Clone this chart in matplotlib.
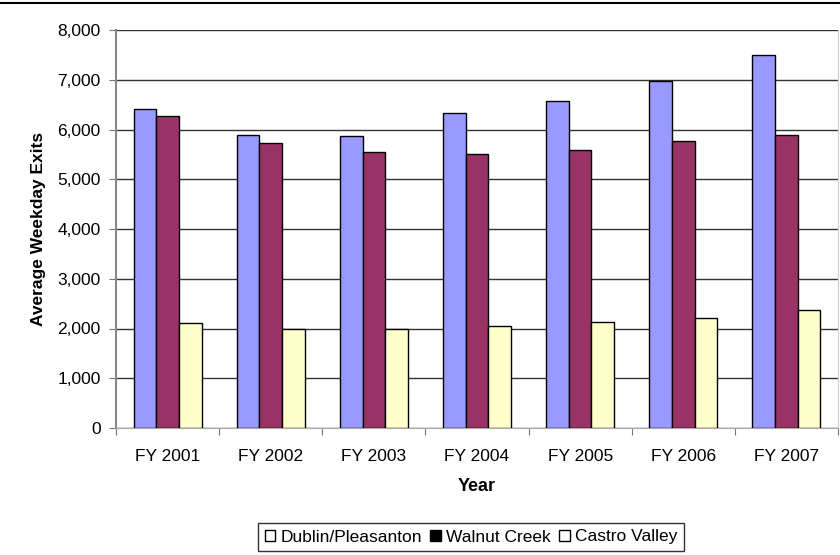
import matplotlib
matplotlib.use("Agg")
import matplotlib.pyplot as plt
import matplotlib.ticker as mticker
from matplotlib.lines import Line2D
from matplotlib.patches import Patch
import numpy as np

YEARS = ["FY 2001", "FY 2002", "FY 2003", "FY 2004", "FY 2005", "FY 2006", "FY 2007"]
DUBLIN = [6410, 5890, 5860, 6340, 6575, 6980, 7500]
WALNUT = [6280, 5735, 5550, 5510, 5590, 5770, 5880]
CASTRO = [2120, 1990, 1990, 2050, 2125, 2205, 2365]

SERIES = ["Dublin/Pleasanton", "Walnut Creek", "Castro Valley"]
COLORS = ["#9999FF", "#993366", "#FFFFCC"]

plt.rcParams["font.family"] = ["Liberation Sans", "DejaVu Sans"]

fig = plt.figure(figsize=(8.4, 5.55), dpi=100)
ax = fig.add_axes([116 / 840, 1 - 428 / 555, 722 / 840, 398 / 555])

x = np.arange(len(YEARS))
w = 0.22
for i, (vals, col) in enumerate(zip([DUBLIN, WALNUT, CASTRO], COLORS)):
    ax.bar(x + (i - 1) * w, vals, w, color=col, edgecolor="black",
           linewidth=1.0, zorder=3)

ax.set_xlim(-0.5, len(YEARS) - 0.5)
ax.set_ylim(0, 8000)
ax.yaxis.set_major_locator(mticker.MultipleLocator(1000))
ax.yaxis.set_major_formatter(mticker.FuncFormatter(lambda v, p: f"{int(v):,}"))
ax.grid(axis="y", color="#333333", linewidth=1.0, zorder=0)
ax.set_axisbelow(True)

# category ticks sit between the groups
ax.set_xticks(np.arange(len(YEARS) + 1) - 0.5, minor=False)
ax.set_xticklabels([])
ax.set_xticks(x, minor=True)
ax.set_xticklabels(YEARS, minor=True, fontsize=12.5)
ax.tick_params(axis="x", which="minor", length=0, pad=15)
ax.tick_params(axis="x", which="major", length=5, color="#777777", direction="out")
ax.tick_params(axis="y", length=5, color="#777777", labelsize=12.5, pad=6)

ax.spines["top"].set_visible(False)
ax.spines["right"].set_color("#cccccc")
ax.spines["left"].set_color("#888888")
ax.spines["left"].set_linewidth(1.5)
ax.spines["bottom"].set_color("#aaaaaa")

ax.set_xlabel("Year", fontsize=13, fontweight="bold", labelpad=10)
ax.set_ylabel("Average Weekday Exits", fontsize=12.5, fontweight="bold", labelpad=8)

handles = [Patch(facecolor="white", edgecolor="black"),
           Patch(facecolor="black", edgecolor="black"),
           Patch(facecolor="white", edgecolor="black")]
leg = fig.legend(handles, SERIES, loc="center", bbox_to_anchor=(471 / 840, 1 - 537 / 555),
                 ncol=3, frameon=True, fancybox=False, fontsize=12.5,
                 handlelength=0.6, handleheight=0.6, handletextpad=0.3,
                 columnspacing=0.5, borderpad=0.35, borderaxespad=0)
leg.get_frame().set_edgecolor("black")
leg.get_frame().set_linewidth(1.0)

# rule across the top of the page
fig.add_artist(Line2D([0, 1], [1 - 2.5 / 555, 1 - 2.5 / 555], color="black",
                      linewidth=1.5, transform=fig.transFigure))

fig.savefig("out.png", dpi=100)
